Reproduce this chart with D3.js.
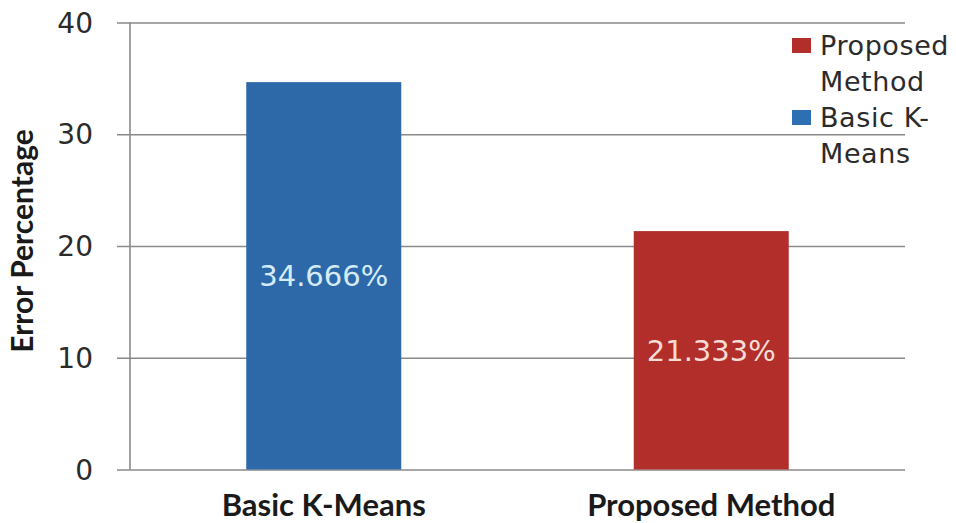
<!DOCTYPE html>
<html>
<head>
<meta charset="utf-8">
<script src="https://cdn.jsdelivr.net/npm/d3@7"></script>
<style>
  html, body { margin: 0; padding: 0; background: #ffffff; }
  svg { display: block; }
</style>
</head>
<body>
<svg id="chart" width="956" height="523"></svg>
<script>
// Error percentage of the two clustering approaches
const categories = ["Basic K-Means", "Proposed Method"];
const errorValues = [34.666, 21.333];
const valueLabels = ["34.666%", "21.333%"];
const barColors = ["#2d69a8", "#b22e2a"];
const labelColors = ["#d6ebf8", "#f7ddd6"];
const yTicks = [0, 10, 20, 30, 40];
const legendNames = [["Proposed", "Method"], ["Basic K-", "Means"]];
const legendColors = ["#b22e2a", "#2d6fb3"];

const svg = d3.select("#chart");
const plot = { left: 130, right: 905, top: 22.5, bottom: 469.5 };

const x = d3.scaleBand()
  .domain(categories)
  .range([plot.left, plot.right])
  .paddingInner(0.6)
  .paddingOuter(0.3);

const y = d3.scaleLinear()
  .domain([0, 40])
  .range([plot.bottom, plot.top]);

const gridColor = "#8a8a8a";

// horizontal gridlines with short outward ticks
const yAxis = d3.axisLeft(y)
  .tickValues(yTicks)
  .tickSize(-(plot.right - plot.left))
  .tickPadding(0)
  .tickFormat("");
const gy = svg.append("g")
  .attr("transform", `translate(${plot.left},0)`)
  .call(yAxis);
gy.select(".domain").remove();
gy.selectAll(".tick line")
  .attr("x1", -13)
  .attr("stroke", gridColor)
  .attr("stroke-width", 1.6);

// tick labels
svg.append("g").selectAll("text")
  .data(yTicks)
  .join("text")
  .attr("x", 93)
  .attr("y", d => y(d))
  .attr("dy", "0.36em")
  .attr("text-anchor", "end")
  .attr("font-family", "DejaVu Sans, sans-serif")
  .attr("font-size", 28)
  .attr("fill", "#2b2b2b")
  .text(d => d);

// vertical axis line
svg.append("line")
  .attr("x1", plot.left).attr("x2", plot.left)
  .attr("y1", plot.top).attr("y2", plot.bottom)
  .attr("stroke", gridColor)
  .attr("stroke-width", 1.6);

// bars
svg.append("g").selectAll("rect")
  .data(categories)
  .join("rect")
  .attr("x", d => x(d))
  .attr("width", x.bandwidth())
  .attr("y", (d, i) => y(errorValues[i]))
  .attr("height", (d, i) => y(0) - y(errorValues[i]))
  .attr("fill", (d, i) => barColors[i]);

// value labels centred in each bar
svg.append("g").selectAll("text")
  .data(categories)
  .join("text")
  .attr("x", d => x(d) + x.bandwidth() / 2)
  .attr("y", (d, i) => (y(errorValues[i]) + y(0)) / 2)
  .attr("dy", "0.36em")
  .attr("text-anchor", "middle")
  .attr("font-family", "DejaVu Sans, sans-serif")
  .attr("font-size", 29)
  .attr("fill", (d, i) => labelColors[i])
  .text((d, i) => valueLabels[i]);

// category labels
svg.append("g").selectAll("text")
  .data(categories)
  .join("text")
  .attr("x", d => x(d) + x.bandwidth() / 2)
  .attr("y", 516)
  .attr("text-anchor", "middle")
  .attr("font-family", "Lato, sans-serif")
  .attr("font-weight", "bold")
  .attr("font-size", 31)
  .attr("fill", "#1a1a1a")
  .text(d => d);

// y axis title
svg.append("text")
  .attr("transform", "translate(33,241) rotate(-90)")
  .attr("text-anchor", "middle")
  .attr("font-family", "Lato, sans-serif")
  .attr("font-weight", "bold")
  .attr("font-size", 30)
  .attr("fill", "#1a1a1a")
  .text("Error Percentage");

// legend
const legend = svg.append("g").attr("transform", "translate(792,0)");
const legendTop = [38, 110];
legendNames.forEach((lines, i) => {
  const g = legend.append("g").attr("transform", `translate(0,${legendTop[i]})`);
  g.append("rect")
    .attr("width", 19).attr("height", 15)
    .attr("fill", legendColors[i]);
  lines.forEach((t, j) => {
    g.append("text")
      .attr("x", 28)
      .attr("y", 17 + j * 36)
      .attr("font-family", "DejaVu Sans, sans-serif")
      .attr("font-size", 27)
      .attr("letter-spacing", 0.6)
      .attr("fill", "#2b2b2b")
      .text(t);
  });
});
</script>
</body>
</html>
